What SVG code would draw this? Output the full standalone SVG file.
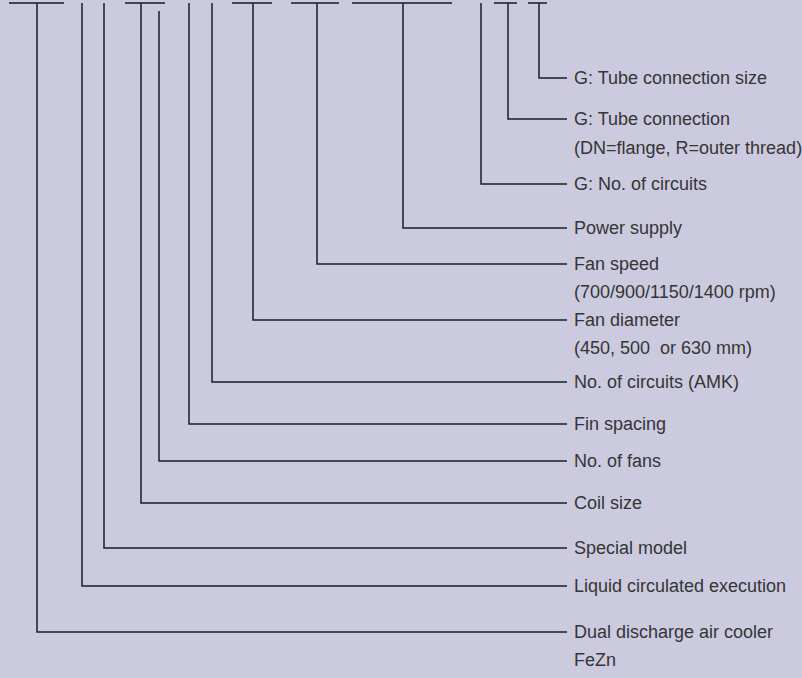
<svg xmlns="http://www.w3.org/2000/svg" width="802" height="678" viewBox="0 0 802 678">
<style>
.bg{fill:#CBCADF}
.ln{fill:none;stroke:#1e1e24;stroke-width:1.5}
.bar{fill:none;stroke:#45454f;stroke-width:2}
.t{font-family:"Liberation Sans",Arial,sans-serif;font-size:18px;fill:#353535}
</style>
<rect class="bg" x="0" y="0" width="802" height="678"/>
<g id="connectors">
<path class="bar" d="M9 3H64M125 3H165M232 3H272M291 3H339M352 3H452M494 3H517M528 3H547"/>
<path class="ln" d="M539 3V78H567"/>
<path class="ln" d="M508 3V119H567"/>
<path class="ln" d="M481 3V184H567"/>
<path class="ln" d="M403 3V228H567"/>
<path class="ln" d="M317 3V264H567"/>
<path class="ln" d="M253 3V320H567"/>
<path class="ln" d="M212 3V382H567"/>
<path class="ln" d="M189 3V424H567"/>
<path class="ln" d="M159 11V461H567"/>
<path class="ln" d="M141 3V503H567"/>
<path class="ln" d="M104 3V548H567"/>
<path class="ln" d="M82 3V586H567"/>
<path class="ln" d="M37 3V632H567"/>
</g>
<g id="n-tube-size"><text class="t" x="574" y="84">G: Tube connection size</text></g>
<g id="n-tube-conn"><text class="t" x="574" y="125">G: Tube connection</text><text class="t" x="574" y="154">(DN=flange, R=outer thread)</text></g>
<g id="n-g-circuits"><text class="t" x="574" y="190">G: No. of circuits</text></g>
<g id="n-power"><text class="t" x="574" y="234">Power supply</text></g>
<g id="n-fan-speed"><text class="t" x="574" y="270">Fan speed</text><text class="t" x="574" y="298">(700/900/1150/1400 rpm)</text></g>
<g id="n-fan-diam"><text class="t" x="574" y="326">Fan diameter</text><text class="t" x="574" y="354" xml:space="preserve">(450, 500  or 630 mm)</text></g>
<g id="n-amk"><text class="t" x="574" y="388">No. of circuits (AMK)</text></g>
<g id="n-fin"><text class="t" x="574" y="430">Fin spacing</text></g>
<g id="n-fans"><text class="t" x="574" y="467">No. of fans</text></g>
<g id="n-coil"><text class="t" x="574" y="509">Coil size</text></g>
<g id="n-special"><text class="t" x="574" y="554">Special model</text></g>
<g id="n-liquid"><text class="t" x="574" y="592">Liquid circulated execution</text></g>
<g id="n-dual"><text class="t" x="574" y="638">Dual discharge air cooler</text><text class="t" x="574" y="666">FeZn</text></g>
</svg>
